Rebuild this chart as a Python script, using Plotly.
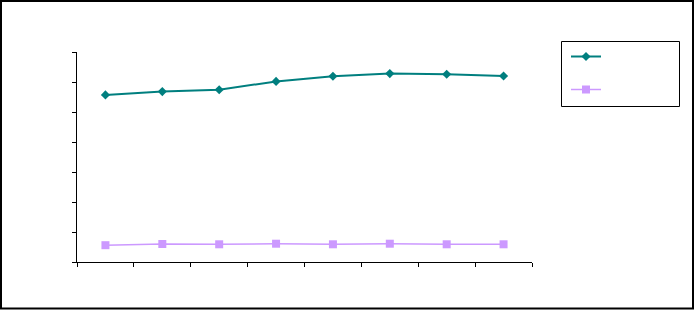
import plotly.graph_objects as go

categories = ["1", "2", "3", "4", "5", "6", "7", "8"]
series_a = [5.57, 5.68, 5.74, 6.02, 6.19, 6.28, 6.26, 6.20]
series_b = [0.56, 0.60, 0.59, 0.61, 0.59, 0.61, 0.59, 0.59]
series_names = ["Série 1", "Série 2"]
y_ticks = [0, 1, 2, 3, 4, 5, 6, 7]

W, H = 695, 310
L, R, T, B = 77, 163, 52, 48
pw, ph = W - L - R, H - T - B

def px_x(x):
    return (x - L) / pw

def px_y(y):
    return (H - B - y) / ph

fig = go.Figure()
fig.add_trace(go.Scatter(
    x=categories, y=series_a, name=series_names[0], mode="lines+markers",
    line=dict(color="#007F7F", width=2),
    marker=dict(symbol="diamond", size=7, color="#007F7F"),
    legendgroup="a",
))
fig.add_trace(go.Scatter(
    x=categories, y=series_b, name=series_names[1], mode="lines+markers",
    line=dict(color="#CC99FF", width=1.5),
    marker=dict(symbol="square", size=8, color="#CC99FF"),
    legendgroup="b",
))

fig.update_layout(
    width=W, height=H,
    margin=dict(l=L, r=R, t=T, b=B),
    paper_bgcolor="white", plot_bgcolor="white",
    font=dict(family="Liberation Sans, Arial", size=10, color="white"),
    showlegend=True,
    legend=dict(
        x=px_x(566), y=px_y(42), xanchor="left", yanchor="top",
        bgcolor="rgba(0,0,0,0)", borderwidth=0,
        font=dict(size=10, color="white"),
        tracegroupgap=14,
    ),
    xaxis=dict(
        type="category", range=[-0.5, 7.5], tickson="boundaries",
        showline=True, linecolor="black", linewidth=1,
        ticks="outside", ticklen=4, tickcolor="black",
        showgrid=False, zeroline=False,
        tickfont=dict(color="white"),
    ),
    yaxis=dict(
        range=[0, 7], tickvals=y_ticks,
        showline=True, linecolor="black", linewidth=1,
        ticks="outside", ticklen=4, tickcolor="black",
        showgrid=False, zeroline=False,
        tickfont=dict(color="white"),
    ),
    shapes=[
        dict(type="rect", xref="paper", yref="paper",
             x0=px_x(1), x1=px_x(693), y0=px_y(1), y1=px_y(308.5),
             line=dict(color="black", width=2), fillcolor="rgba(0,0,0,0)", layer="below"),
        dict(type="rect", xref="paper", yref="paper",
             x0=px_x(561.5), x1=px_x(679.5), y0=px_y(41.5), y1=px_y(106.5),
             line=dict(color="black", width=1), fillcolor="rgba(0,0,0,0)", layer="below"),
    ],
)

fig.write_html("out.html")
